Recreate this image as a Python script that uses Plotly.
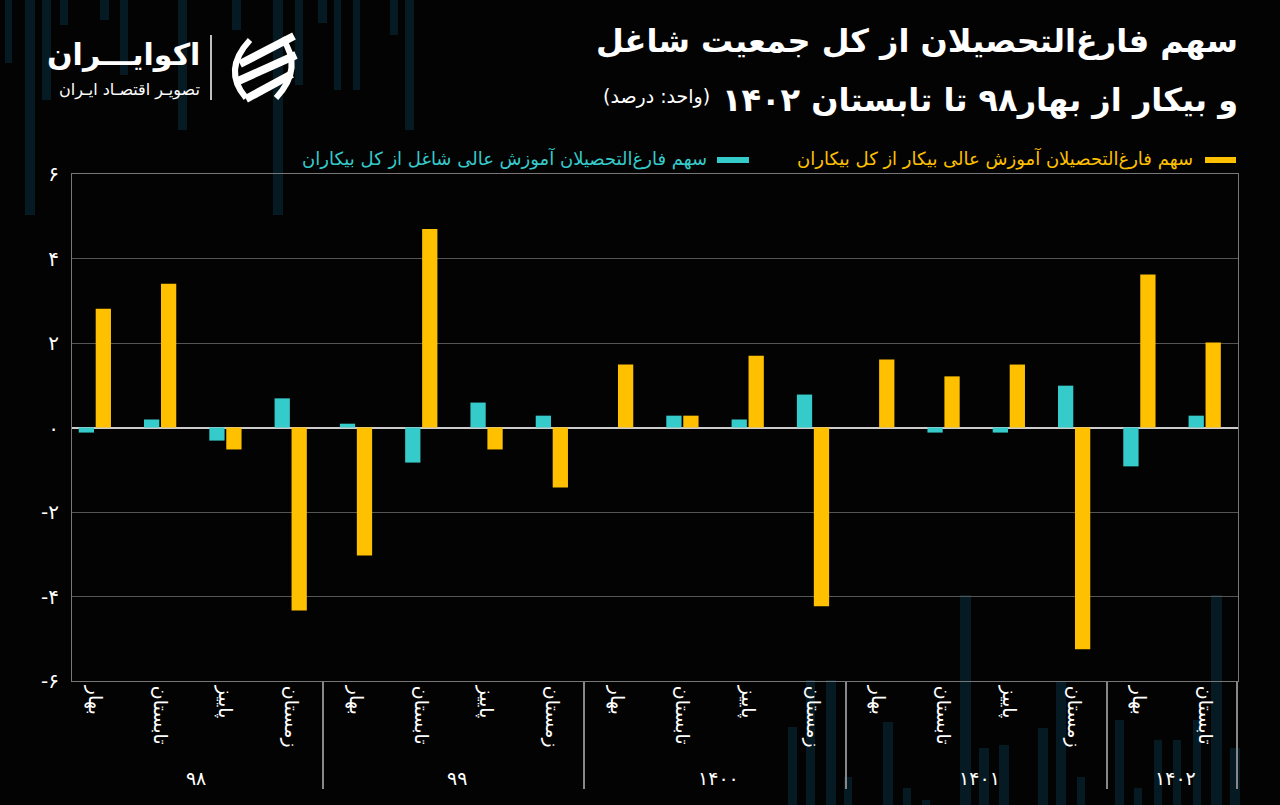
import plotly.graph_objects as go

# ---------------- data ----------------
years = ["۹۸"] * 4 + ["۹۹"] * 4 + ["۱۴۰۰"] * 4 + ["۱۴۰۱"] * 4 + ["۱۴۰۲"] * 2
seasons = ["بهار", "تابستان", "پاییز", "زمستان"] * 4 + ["بهار", "تابستان"]

employed_share = [-0.12, 0.19, -0.31, 0.69,
                  0.09, -0.83, 0.59, 0.28,
                  0.0, 0.28, 0.19, 0.78,
                  0.0, -0.12, -0.12, 0.99,
                  -0.92, 0.28]
unemployed_share = [2.81, 3.40, -0.52, -4.33,
                    -3.03, 4.70, -0.52, -1.42,
                    1.49, 0.28, 1.70, -4.23,
                    1.61, 1.21, 1.49, -5.25,
                    3.62, 2.01]

y_tickvals = [-6, -4, -2, 0, 2, 4, 6]
y_ticktext = ["-۶", "-۴", "-۲", "۰", "۲", "۴", "۶"]

name_unemp = "سهم فارغ‌التحصیلان آموزش عالی بیکار از کل بیکاران"
name_emp = "سهم فارغ‌التحصیلان آموزش عالی شاغل از کل بیکاران"
title1 = "سهم فارغ‌التحصیلان از کل جمعیت شاغل"
title2 = "و بیکار از بهار۹۸ تا تابستان ۱۴۰۲"
unit = "(واحد: درصد)"
brand = "اکوایـــران"
brand_sub = "تصویـر اقتصـاد ایـران"

YELLOW = "#FFC000"
CYAN = "#36CBCB"
FONT = "DejaVu Sans, sans-serif"

# plot area in pixels (for placing decorations)
L, R, T, B = 72, 1238, 174, 681


def px(x):
    return (x - L) / (R - L)


def py(y):
    return (B - y) / (B - T)


fig = go.Figure()
fig.add_trace(go.Bar(x=[years, seasons], y=employed_share, name=name_emp,
                     marker=dict(color=CYAN, line=dict(width=0))))
fig.add_trace(go.Bar(x=[years, seasons], y=unemployed_share, name=name_unemp,
                     marker=dict(color=YELLOW, line=dict(width=0))))

# ---------------- decorative faint background bars (pixels) ----------------
deco_color = "#051a22"
top_bars = [(5, 12, 63), (25, 35, 215), (42, 51, 100), (60, 68, 25),
            (100, 109, 20), (120, 128, 75), (178, 187, 130), (232, 241, 30),
            (273, 283, 215), (295, 303, 85), (318, 327, 23), (334, 341, 90),
            (353, 360, 90), (390, 398, 35), (405, 414, 130)]
bottom_bars = [(788, 797, 727), (806, 815, 680), (826, 836, 680), (844, 852, 777),
               (883, 893, 722), (903, 911, 788), (922, 930, 800), (960, 971, 595),
               (979, 989, 748), (999, 1009, 745), (1038, 1048, 728), (1056, 1066, 682),
               (1077, 1085, 777), (1115, 1124, 720), (1134, 1142, 788), (1154, 1162, 740),
               (1173, 1181, 740), (1193, 1201, 720), (1211, 1222, 595), (1230, 1240, 748)]
shapes = []
for x0, x1, yb in top_bars:
    shapes.append(dict(type="rect", xref="paper", yref="paper", x0=px(x0), x1=px(x1),
                       y0=py(yb), y1=py(0), fillcolor=deco_color, line=dict(width=0),
                       layer="below"))
for x0, x1, yt in bottom_bars:
    shapes.append(dict(type="rect", xref="paper", yref="paper", x0=px(x0), x1=px(x1),
                       y0=py(805), y1=py(yt), fillcolor=deco_color, line=dict(width=0),
                       layer="below"))

# legend swatches
shapes.append(dict(type="line", xref="paper", yref="paper",
                   x0=px(1205), x1=px(1236), y0=py(160), y1=py(160),
                   line=dict(color=YELLOW, width=6)))
shapes.append(dict(type="line", xref="paper", yref="paper",
                   x0=px(717), x1=px(749), y0=py(160), y1=py(160),
                   line=dict(color=CYAN, width=6)))

# logo separator
shapes.append(dict(type="line", xref="paper", yref="paper",
                   x0=px(211), x1=px(211), y0=py(35), y1=py(100),
                   line=dict(color="white", width=1.5)))
# stylised logo icon
shapes.append(dict(type="path", xref="paper", yref="paper",
                   path=f"M {px(246)},{py(98)} Q {px(222)},{py(70)} {px(250)},{py(40)}",
                   line=dict(color="white", width=6)))
shapes.append(dict(type="path", xref="paper", yref="paper",
                   path=f"M {px(282)},{py(38)} Q {px(304)},{py(68)} {px(276)},{py(98)}",
                   line=dict(color="white", width=6)))
for (xa, ya, xb, yb) in [(240, 64, 294, 36), (236, 82, 296, 55), (246, 99, 292, 74)]:
    shapes.append(dict(type="line", xref="paper", yref="paper",
                       x0=px(xa), y0=py(ya), x1=px(xb), y1=py(yb),
                       line=dict(color="white", width=8)))

annotations = [
    dict(text=title1, xref="paper", yref="paper", x=px(1240), y=py(41),
         xanchor="right", yanchor="middle", showarrow=False,
         font=dict(family=FONT, size=32, color="white", weight="bold")),
    dict(text=title2, xref="paper", yref="paper", x=px(1240), y=py(100),
         xanchor="right", yanchor="middle", showarrow=False,
         font=dict(family=FONT, size=32, color="white", weight="bold")),
    dict(text=unit, xref="paper", yref="paper", x=px(712), y=py(96),
         xanchor="right", yanchor="middle", showarrow=False,
         font=dict(family=FONT, size=19, color="white")),
    dict(text=name_unemp, xref="paper", yref="paper", x=px(1195), y=py(158),
         xanchor="right", yanchor="middle", showarrow=False,
         font=dict(family=FONT, size=18, color=YELLOW)),
    dict(text=name_emp, xref="paper", yref="paper", x=px(709), y=py(158),
         xanchor="right", yanchor="middle", showarrow=False,
         font=dict(family=FONT, size=18, color=CYAN)),
    dict(text=brand, xref="paper", yref="paper", x=px(202), y=py(55),
         xanchor="right", yanchor="middle", showarrow=False,
         font=dict(family=FONT, size=30, color="white", weight="bold")),
    dict(text=brand_sub, xref="paper", yref="paper", x=px(202), y=py(90),
         xanchor="right", yanchor="middle", showarrow=False,
         font=dict(family=FONT, size=16, color="white")),
]

fig.update_layout(
    width=1280, height=805,
    paper_bgcolor="#030303", plot_bgcolor="rgba(0,0,0,0)",
    margin=dict(l=L, r=1280 - R, t=T, b=805 - B),
    barmode="group", bargap=0.48, bargroupgap=0.1,
    showlegend=False,
    font=dict(family=FONT, color="white"),
    shapes=shapes, annotations=annotations,
)
fig.update_xaxes(
    type="multicategory", range=[-0.35, 17.51],
    tickangle=90, tickfont=dict(family=FONT, size=19, color="white"),
    showline=True, linecolor="#777777", linewidth=1, mirror=True,
    showgrid=False, ticks="", showdividers=True, dividercolor="#888888",
    dividerwidth=1.5,
)
fig.update_yaxes(
    range=[-6, 6], tickvals=y_tickvals, ticktext=y_ticktext,
    tickfont=dict(family=FONT, size=20, color="white"),
    showgrid=True, gridcolor="#555555", gridwidth=1,
    zeroline=True, zerolinecolor="#cccccc", zerolinewidth=1.5,
    showline=True, linecolor="#777777", linewidth=1, mirror=True,
    ticks="", ticklabelstandoff=8,
)

fig.write_html(
    "out.html",
    config={"displayModeBar": False},
    post_script="document.body.style.margin='0';document.body.style.background='#030303';"
                "document.body.style.overflow='hidden';",
)
